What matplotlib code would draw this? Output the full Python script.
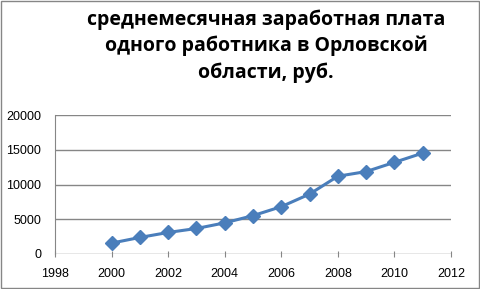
import matplotlib
matplotlib.use("Agg")
import matplotlib.pyplot as plt
from matplotlib.patches import Rectangle

years = [2000, 2001, 2002, 2003, 2004, 2005, 2006, 2007, 2008, 2009, 2010, 2011]
wages = [1570, 2380, 3100, 3670, 4480, 5520, 6810, 8620, 11190, 11860, 13190, 14520]
title = "среднемесячная заработная плата\nодного работника в Орловской\nобласти, руб."
x_ticks = [1998, 2000, 2002, 2004, 2006, 2008, 2010, 2012]
y_ticks = [0, 5000, 10000, 15000, 20000]

fig = plt.figure(figsize=(4.81, 2.89), dpi=100)
ax = fig.add_axes([55/481, 35/289, 396/481, 139/289])
ax.plot(years, wages, color="#4a7ebb", linewidth=2.2, marker="D", markersize=7.5,
        markerfacecolor="#4a7ebb", markeredgecolor="#4a7ebb", zorder=3)
ax.set_xlim(1998, 2012)
ax.set_ylim(0, 20000)
ax.set_xticks(x_ticks)
ax.set_yticks(y_ticks)
ax.grid(axis="y", color="#868686", linewidth=1)
ax.set_axisbelow(True)
for s in ["top", "right", "bottom"]:
    ax.spines[s].set_visible(False)
ax.spines["left"].set_color("#868686")
ax.tick_params(axis="y", length=0, pad=10, labelsize=9, labelcolor="#000000")
ax.tick_params(axis="x", length=4, direction="inout", color="#868686", pad=8, labelsize=9)
for lab in ax.get_xticklabels() + ax.get_yticklabels():
    lab.set_fontfamily("Liberation Sans")

fig.text(0.553, 1 - 46/289, title, ha="center", va="center", fontsize=14,
         fontweight="bold", family="Open Sans", linespacing=1.38)
fig.patches.append(Rectangle((0.5/481, 1.5/289), 479/481, 287/289, transform=fig.transFigure,
                             fill=False, edgecolor="#868686", linewidth=1))
fig.savefig("out.png", dpi=100)
